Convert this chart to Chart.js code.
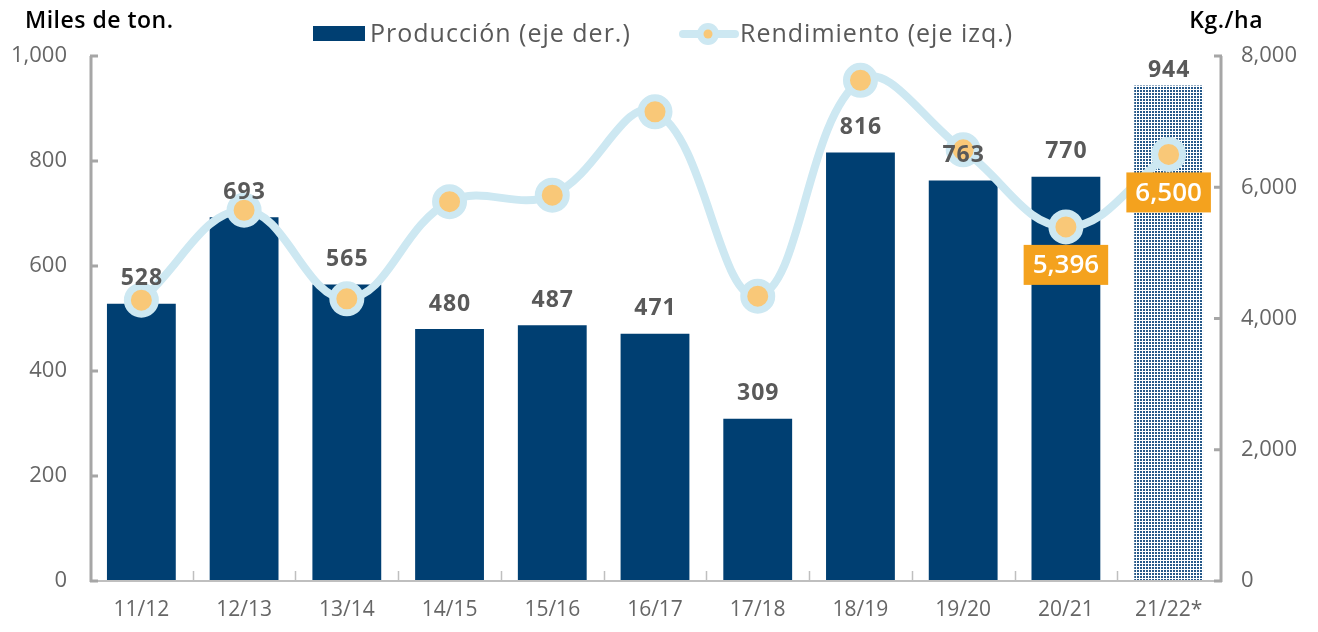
<!DOCTYPE html>
<html><head><meta charset="utf-8">
<script src="https://cdn.jsdelivr.net/npm/chart.js@4.4.1/dist/chart.umd.min.js"></script>
<style>html,body{margin:0;padding:0;background:#fff;} canvas{display:block}</style>
</head><body>
<canvas id="c" width="1318" height="632"></canvas>
<script>
const seasons = ['11/12','12/13','13/14','14/15','15/16','16/17','17/18','18/19','19/20','20/21','21/22*'];
const production = [528,693,565,480,487,471,309,816,763,770,944];
const yieldKgHa = [4280,5650,4300,5780,5880,7150,4340,7630,6570,5396,6500];
const leftTicks = [0,200,400,600,800,1000];
const rightTicks = [0,2000,4000,6000,8000];
const projectedSeasons = ['21/22*'];
const highlightedYieldSeasons = ['20/21','21/22*'];
const leftTitle = 'Miles de ton.';
const rightTitle = 'Kg./ha';
const barLegend = 'Producción (eje der.)';
const lineLegend = 'Rendimiento (eje izq.)';

const NAVY = '#003f72', LIGHT = '#cde8f2', ORANGE_DOT = '#f9c878', ORANGE = '#f4a21e', GRAY = '#595959', TICK = '#666666';
const FONT = "'Open Sans', Roboto, sans-serif";
const fmt = v => Number(v).toLocaleString('en-US');

const canvas = document.getElementById('c');
const ctx = canvas.getContext('2d');
function dotPattern(){
  const t = document.createElement('canvas'); t.width = 3; t.height = 3;
  const g = t.getContext('2d');
  g.fillStyle = '#ffffff'; g.fillRect(0,0,3,3);
  g.fillStyle = '#26598a'; g.fillRect(0,0,2,2);
  return ctx.createPattern(t,'repeat');
}
const pat = dotPattern();
const barColors = seasons.map(s => projectedSeasons.includes(s) ? pat : NAVY);

const decor = {
  id: 'decor',
  afterDatasetsDraw(chart){
    const c = chart.ctx, a = chart.chartArea;
    const x = chart.scales.x, yl = chart.scales.y, yr = chart.scales.y1;
    c.save();
    c.lineCap = 'butt';
    c.strokeStyle = '#bfbfbf'; c.lineWidth = 2;
    c.beginPath(); c.moveTo(a.left, a.bottom); c.lineTo(a.right+2, a.bottom); c.stroke();
    const step = (x.getPixelForValue(1) - x.getPixelForValue(0));
    c.beginPath();
    for (let i = 1; i < seasons.length; i++){
      const px = Math.round(x.getPixelForValue(i) - step/2) + 0.5;
      c.moveTo(px, a.bottom); c.lineTo(px, a.bottom - 10);
    }
    c.lineWidth = 1.5; c.stroke();
    c.strokeStyle = '#a6a6a6'; c.lineWidth = 3;
    c.beginPath(); c.moveTo(a.left+1, a.top); c.lineTo(a.left+1, a.bottom+1); c.stroke();
    c.beginPath(); c.moveTo(a.right+1, a.top); c.lineTo(a.right+1, a.bottom+1); c.stroke();
    c.beginPath();
    leftTicks.forEach(v => { const py = yl.getPixelForValue(v); c.moveTo(a.left, py); c.lineTo(a.left+8, py); });
    rightTicks.forEach(v => { const py = yr.getPixelForValue(v); c.moveTo(a.right+2, py); c.lineTo(a.right-6, py); });
    c.stroke();

    const bm = chart.getDatasetMeta(1);
    c.font = 'bold 23px ' + FONT; c.fillStyle = GRAY; c.textAlign = 'center'; c.textBaseline = 'middle';
    c.letterSpacing = '1px';
    bm.data.forEach((el, i) => {
      const ty = Math.max(el.y - 25, a.top + 14);
      c.fillText(fmt(production[i]), el.x + 0.5, ty);
    });
    c.letterSpacing = '0px';
    const lm = chart.getDatasetMeta(0);
    c.font = '600 26px ' + FONT;
    lm.data.forEach((el, i) => {
      if (!highlightedYieldSeasons.includes(seasons[i])) return;
      const txt = fmt(yieldKgHa[i]);
      const w = c.measureText(txt).width + 18, h = 40;
      const cy = el.y + 38;
      c.fillStyle = ORANGE; c.fillRect(el.x - w/2, cy - h/2, w, h);
      c.fillStyle = '#ffffff'; c.fillText(txt, el.x, cy + 1);
    });
    c.restore();
  },
  afterDraw(chart){
    const c = chart.ctx;
    c.save();
    c.textBaseline = 'middle';
    c.fillStyle = '#000'; c.font = '600 23px ' + FONT; c.letterSpacing = '0.5px';
    c.textAlign = 'left'; c.fillText(leftTitle, 25, 21);
    c.textAlign = 'right'; c.fillText(rightTitle, 1263, 21);
    c.fillStyle = NAVY; c.fillRect(313, 26, 52, 15);
    c.font = '25px ' + FONT; c.fillStyle = GRAY; c.textAlign = 'left'; c.letterSpacing = '1px';
    c.fillText(barLegend, 370, 35);
    c.strokeStyle = LIGHT; c.lineWidth = 8; c.lineCap = 'round';
    c.beginPath(); c.moveTo(683, 34); c.lineTo(735, 34); c.stroke();
    c.fillStyle = LIGHT; c.beginPath(); c.arc(708, 34, 11, 0, Math.PI*2); c.fill();
    c.fillStyle = ORANGE_DOT; c.beginPath(); c.arc(708, 34, 4.5, 0, Math.PI*2); c.fill();
    c.fillStyle = GRAY; c.fillText(lineLegend, 740, 35);
    c.restore();
  }
};

new Chart(ctx, {
  data: {
    labels: seasons,
    datasets: [
      { type: 'line', label: lineLegend, data: yieldKgHa, yAxisID: 'y1', order: 0,
        borderColor: LIGHT, borderWidth: 8, tension: 0.4,
        pointRadius: 14, pointBorderWidth: 7, pointBackgroundColor: ORANGE_DOT, pointBorderColor: LIGHT },
      { type: 'bar', label: barLegend, data: production, yAxisID: 'y', order: 1,
        backgroundColor: barColors, barPercentage: 0.67, categoryPercentage: 1.0 }
    ]
  },
  options: {
    responsive: false, animation: false,
    layout: { padding: { top: 56, left: 0, right: 0, bottom: 0 } },
    plugins: { legend: { display: false }, tooltip: { enabled: false } },
    scales: {
      x: { grid: { display: false, drawTicks: false }, border: { display: false },
           ticks: { color: TICK, font: { family: FONT, size: 21 }, padding: 16 },
           afterFit: s => { s.height = 51; } },
      y: { position: 'left', min: 0, max: 1000,
           grid: { display: false, drawTicks: false }, border: { display: false },
           afterBuildTicks: s => { s.ticks = leftTicks.map(v => ({ value: v })); },
           ticks: { color: TICK, font: { family: FONT, size: 22 }, padding: 23, callback: v => fmt(v) },
           afterFit: s => { s.width = 90; } },
      y1: { position: 'right', min: 0, max: 8000,
           grid: { display: false, drawTicks: false }, border: { display: false },
           afterBuildTicks: s => { s.ticks = rightTicks.map(v => ({ value: v })); },
           ticks: { color: TICK, font: { family: FONT, size: 22 }, padding: 21, callback: v => fmt(v) },
           afterFit: s => { s.width = 98; } }
    }
  },
  plugins: [decor]
});
</script>
</body></html>
